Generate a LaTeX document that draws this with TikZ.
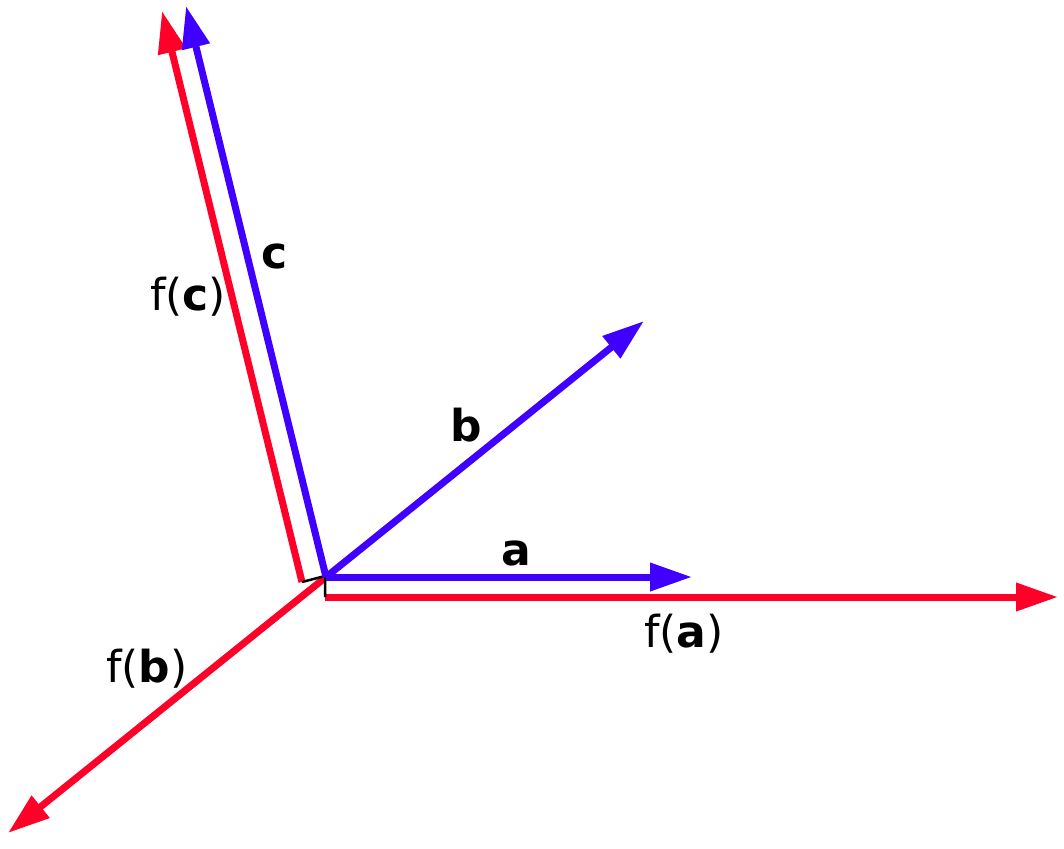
\documentclass[tikz,border=0pt]{standalone}
\usepackage{fontspec}
\setmainfont{DejaVu Sans}
\usetikzlibrary{arrows.meta}
\definecolor{vblue}{RGB}{64,0,255}
\definecolor{vred}{RGB}{255,0,40}
\tikzset{
  vec/.style={line width=7pt, -{Triangle[length=42pt,width=27pt]}},
  bluevec/.style={vec, draw=vblue, fill=vblue},
  redvec/.style={vec, draw=vred, fill=vred},
  rmark/.style={draw=black, line width=2.5pt},
  lbl/.style={anchor=base, inner sep=0pt, font=\fontsize{44}{50}\selectfont}
}
\begin{document}
\begin{tikzpicture}[x=1pt,y=-1pt]
\useasboundingbox (0,0) rectangle (1064,848);
% coordinates
\coordinate (O) at (326,577);
\coordinate (Ta) at (692,577);
\coordinate (Tb) at (644,321);
\coordinate (Tc) at (186,6);
\coordinate (Ofc) at (302,582);
\coordinate (Tfc) at (162,11);
\coordinate (C) at (325,576);
\coordinate (Ofa) at (325,597);
\coordinate (Tfa) at (1058,597);
\coordinate (Tfb) at (8,833);
% red vectors
\draw[redvec] (Ofc) -- (Tfc);
\draw[redvec] (Ofa) -- (Tfa);
\draw[redvec] (O) -- (Tfb);
% right-angle marks
\draw[rmark] (Ofc) -- (C) -- (Ofa);
% blue vectors
\draw[bluevec] (O) -- (Ta);
\draw[bluevec] (O) -- (Tb);
\draw[bluevec] (O) -- (Tc);
% labels
\node[lbl] (la) at (516,565) {\textbf{a}};
\node[lbl] (lb) at (466,441) {\textbf{b}};
\node[lbl] (lc) at (275,268) {\textbf{c}};
\node[lbl] (lfa) at (684,647) {f(\textbf{a})};
\node[lbl] (lfb) at (147,682) {f(\textbf{b})};
\node[lbl] (lfc) at (188,310) {f(\textbf{c})};
\end{tikzpicture}
\end{document}
